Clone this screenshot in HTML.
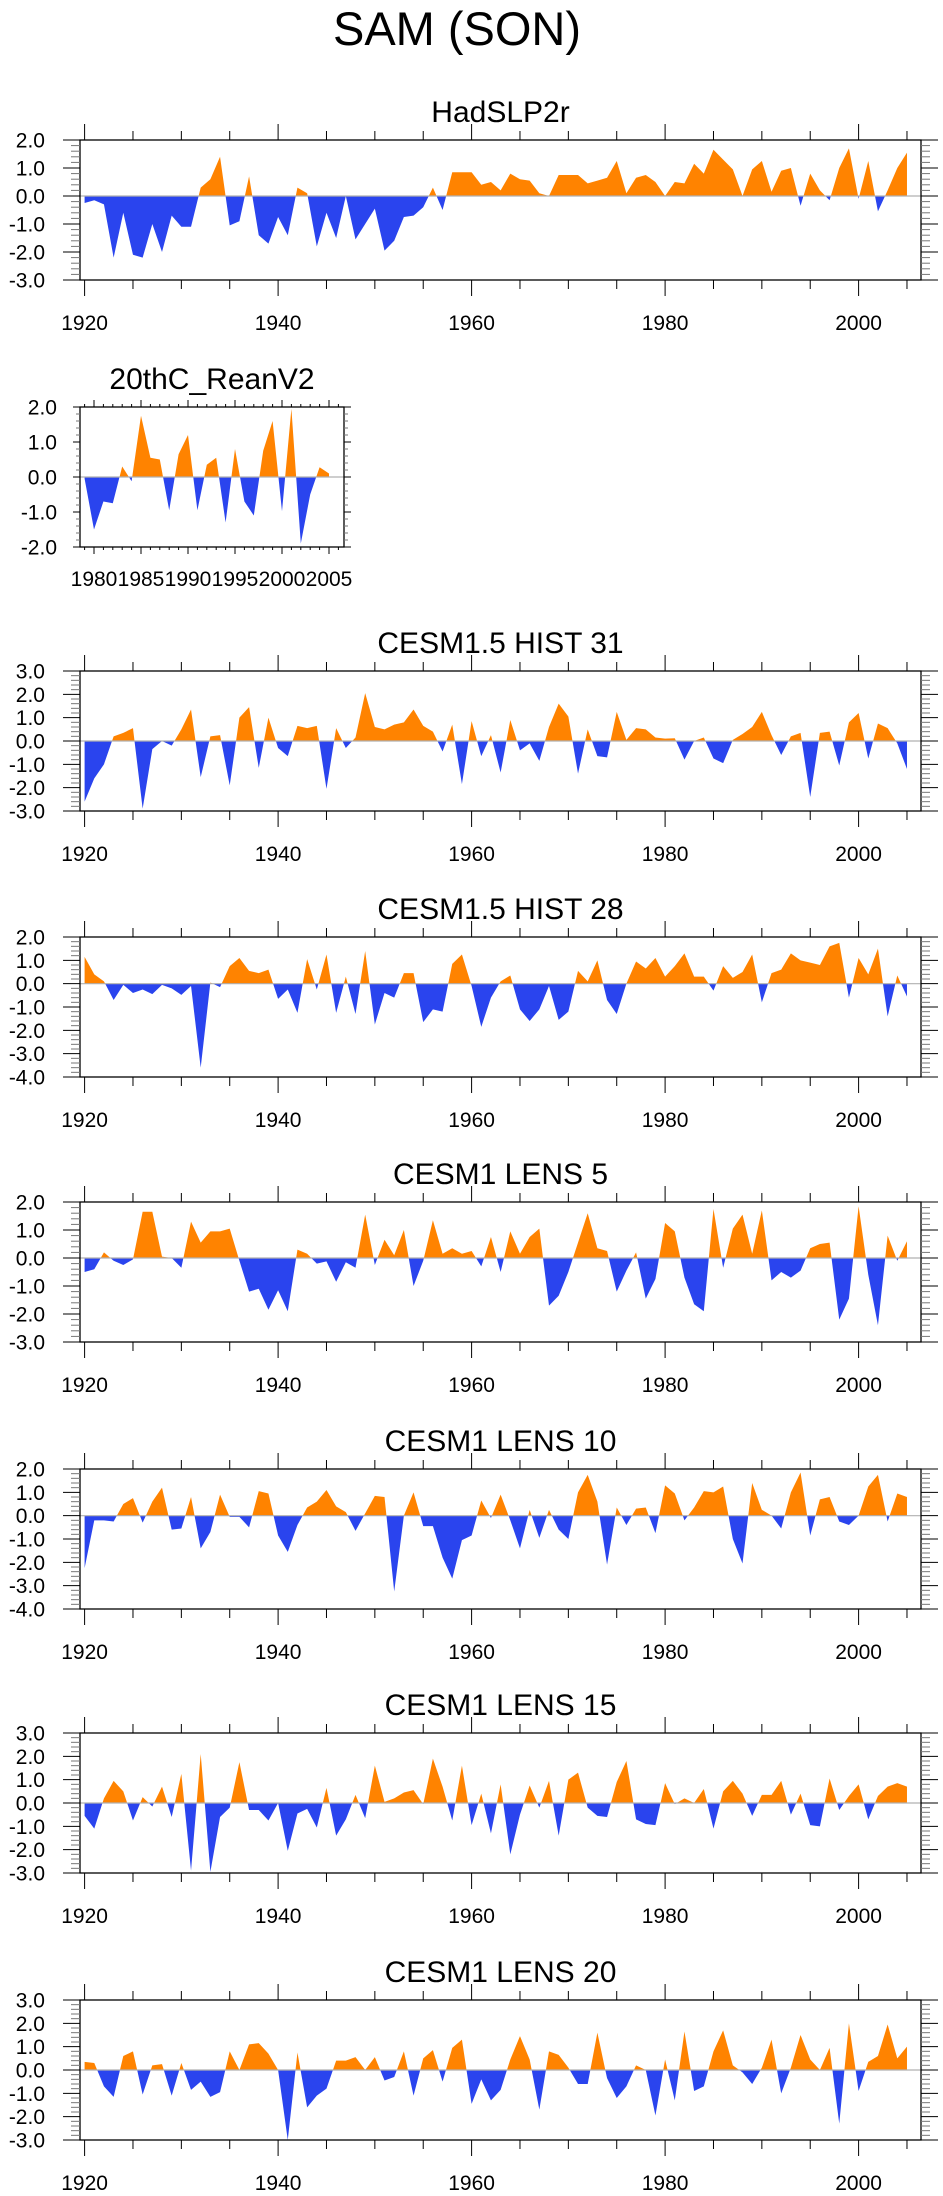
<!DOCTYPE html>
<html><head><meta charset="utf-8"><style>
html,body{margin:0;padding:0;background:#fff;}
svg{display:block;font-family:"Liberation Sans",sans-serif;}
</style></head><body>
<svg id="fig" width="943" height="2196" viewBox="0 0 943 2196" xmlns="http://www.w3.org/2000/svg">
<text x="457" y="45" font-size="47" text-anchor="middle">SAM (SON)</text>
</svg>
<script>
const had = [-0.25,-0.15,-0.3,-2.2,-0.6,-2.1,-2.2,-1.0,-2.0,-0.7,-1.1,-1.1,0.3,0.6,1.4,-1.05,-0.9,0.7,-1.4,-1.7,-0.75,-1.4,0.3,0.1,-1.8,-0.6,-1.5,0.0,-1.55,-1.0,-0.45,-1.95,-1.6,-0.75,-0.7,-0.4,0.3,-0.5,0.85,0.85,0.85,0.4,0.5,0.2,0.8,0.6,0.55,0.1,0.0,0.75,0.75,0.75,0.45,0.55,0.65,1.25,0.1,0.65,0.75,0.5,0.0,0.5,0.45,1.15,0.8,1.65,1.3,0.95,0.0,0.95,1.25,0.15,0.9,1.0,-0.35,0.8,0.2,-0.15,1.0,1.7,-0.1,1.25,-0.55,0.2,1.0,1.55];
const rean = [-0.05,-1.5,-0.7,-0.75,0.3,-0.12,1.75,0.55,0.5,-0.95,0.65,1.2,-0.95,0.35,0.55,-1.3,0.8,-0.7,-1.1,0.75,1.6,-0.98,1.95,-1.9,-0.5,0.28,0.1];
const hist31 = [-2.6,-1.6,-1.0,0.2,0.35,0.55,-2.9,-0.35,0.0,-0.2,0.5,1.35,-1.55,0.2,0.25,-1.9,1.0,1.45,-1.15,1.0,-0.3,-0.65,0.65,0.55,0.65,-2.05,0.55,-0.3,0.15,2.05,0.6,0.5,0.7,0.8,1.35,0.65,0.4,-0.45,0.7,-1.85,0.85,-0.65,0.25,-1.35,0.9,-0.4,-0.1,-0.85,0.6,1.6,1.05,-1.4,0.5,-0.65,-0.7,1.25,0.05,0.55,0.5,0.15,0.1,0.12,-0.8,0.0,0.15,-0.75,-0.95,0.05,0.3,0.6,1.25,0.25,-0.6,0.2,0.35,-2.4,0.35,0.4,-1.05,0.8,1.2,-0.75,0.75,0.55,-0.1,-1.2];
const hist28 = [1.15,0.4,0.1,-0.7,-0.05,-0.4,-0.25,-0.45,-0.05,-0.2,-0.48,-0.1,-3.6,0.05,-0.15,0.75,1.1,0.55,0.45,0.6,-0.65,-0.25,-1.25,1.05,-0.25,1.25,-1.25,0.3,-1.3,1.4,-1.75,-0.4,-0.6,0.45,0.45,-1.65,-1.1,-1.2,0.85,1.25,-0.1,-1.85,-0.6,0.1,0.35,-1.1,-1.6,-1.1,-0.1,-1.55,-1.2,0.55,0.1,1.0,-0.7,-1.3,0.0,0.95,0.65,1.1,0.3,0.75,1.3,0.3,0.3,-0.3,0.75,0.25,0.5,1.25,-0.8,0.45,0.6,1.3,1.0,0.9,0.8,1.6,1.75,-0.6,1.1,0.4,1.5,-1.4,0.35,-0.55];
const lens5 = [-0.5,-0.4,0.2,-0.1,-0.25,-0.05,1.65,1.65,0.05,0.0,-0.35,1.3,0.55,0.95,0.95,1.05,-0.1,-1.2,-1.1,-1.85,-1.15,-1.9,0.3,0.15,-0.2,-0.12,-0.85,-0.15,-0.35,1.55,-0.25,0.65,0.1,1.0,-1.0,-0.1,1.35,0.15,0.35,0.15,0.25,-0.3,0.75,-0.5,0.95,0.15,0.75,1.05,-1.7,-1.35,-0.5,0.55,1.6,0.35,0.25,-1.2,-0.45,0.2,-1.45,-0.75,1.25,0.95,-0.7,-1.65,-1.9,1.75,-0.35,1.05,1.55,0.15,1.7,-0.8,-0.5,-0.7,-0.45,0.35,0.5,0.55,-2.2,-1.45,1.85,-0.6,-2.4,0.8,-0.1,0.6];
const lens10 = [-2.25,-0.2,-0.2,-0.25,0.5,0.75,-0.3,0.6,1.2,-0.6,-0.55,0.8,-1.4,-0.7,0.9,-0.05,-0.05,-0.5,1.05,0.95,-0.85,-1.55,-0.4,0.35,0.6,1.1,0.4,0.15,-0.65,0.1,0.85,0.8,-3.25,0.0,1.0,-0.45,-0.45,-1.8,-2.7,-1.05,-0.85,0.65,-0.1,0.9,-0.2,-1.4,0.25,-0.95,0.25,-0.6,-1.0,1.0,1.75,0.6,-2.1,0.35,-0.4,0.3,0.35,-0.75,1.3,0.95,-0.2,0.35,1.05,1.0,1.25,-1.0,-2.05,1.4,0.25,0.0,-0.55,1.0,1.85,-0.85,0.7,0.8,-0.25,-0.4,0.0,1.25,1.75,-0.25,0.95,0.8];
const lens15 = [-0.55,-1.1,0.2,0.95,0.5,-0.75,0.25,-0.15,0.7,-0.6,1.25,-2.9,2.1,-2.95,-0.6,-0.2,1.75,-0.3,-0.3,-0.75,0.0,-2.05,-0.45,-0.25,-1.05,0.65,-1.4,-0.7,0.35,-0.65,1.6,0.05,0.2,0.45,0.55,-0.05,1.9,0.7,-0.75,1.6,-0.95,0.4,-1.3,0.8,-2.2,-0.5,0.75,-0.2,0.95,-1.4,1.0,1.3,-0.2,-0.55,-0.6,0.9,1.8,-0.7,-0.9,-0.95,0.85,-0.05,0.2,0.0,0.6,-1.1,0.5,0.95,0.4,-0.55,0.35,0.35,0.95,-0.5,0.4,-0.95,-1.0,1.05,-0.3,0.3,0.8,-0.7,0.3,0.7,0.85,0.7];
const lens20 = [0.35,0.3,-0.7,-1.15,0.6,0.8,-1.05,0.2,0.25,-1.1,0.3,-0.85,-0.5,-1.15,-0.95,0.8,0.0,1.1,1.15,0.7,0.0,-3.0,0.75,-1.6,-1.1,-0.8,0.4,0.4,0.55,0.0,0.55,-0.45,-0.3,0.8,-1.1,0.5,0.85,-0.5,0.95,1.3,-1.45,-0.4,-1.3,-0.85,0.45,1.45,0.45,-1.7,0.8,0.65,0.1,-0.6,-0.6,1.6,-0.35,-1.2,-0.7,0.2,0.0,-1.95,0.45,-1.3,1.65,-0.9,-0.7,0.8,1.7,0.2,-0.1,-0.6,0.1,1.3,-1.0,0.1,1.5,0.45,0.0,0.95,-2.3,2.0,-0.9,0.35,0.6,1.95,0.5,1.0];
const fullTicks = [1920,1940,1960,1980,2000];
const reanTicks = [1980,1985,1990,1995,2000,2005];

const NS = "http://www.w3.org/2000/svg";
const svg = document.getElementById('fig');
function el(tag, attrs, parent){
  const e = document.createElementNS(NS, tag);
  for (const k in attrs) e.setAttribute(k, attrs[k]);
  (parent||svg).appendChild(e);
  return e;
}
const panels = [
  {name:'hadslp2r', title:'HadSLP2r', data:had, y0:1920, top:140, ymax:2, ymin:-3, full:true},
  {name:'20thc-reanv2', title:'20thC_ReanV2', data:rean, y0:1979, top:407, ymax:2, ymin:-2, full:false},
  {name:'cesm15-hist-31', title:'CESM1.5 HIST 31', data:hist31, y0:1920, top:671, ymax:3, ymin:-3, full:true},
  {name:'cesm15-hist-28', title:'CESM1.5 HIST 28', data:hist28, y0:1920, top:937, ymax:2, ymin:-4, full:true},
  {name:'cesm1-lens-5', title:'CESM1 LENS 5', data:lens5, y0:1920, top:1202, ymax:2, ymin:-3, full:true},
  {name:'cesm1-lens-10', title:'CESM1 LENS 10', data:lens10, y0:1920, top:1469, ymax:2, ymin:-4, full:true},
  {name:'cesm1-lens-15', title:'CESM1 LENS 15', data:lens15, y0:1920, top:1733, ymax:3, ymin:-3, full:true},
  {name:'cesm1-lens-20', title:'CESM1 LENS 20', data:lens20, y0:1920, top:2000, ymax:3, ymin:-3, full:true}
];
let cid = 0;
panels.forEach(p => {
  const H = 140, top = p.top, bot = top + H;
  const left = 80, right = p.full ? 921 : 344;
  const xs = p.full ? (yr => 84.6 + 9.675*(yr-1920)) : (yr => 94 + 9.4*(yr-1980));
  const ys = v => top + (p.ymax - v) / (p.ymax - p.ymin) * H;
  const g = el('g', {});
  
  
  const t = el('text', {x:(left+right)/2, y: top-18, 'font-size':30, 'text-anchor':'middle'}, g);
  
  
  t.textContent = p.title;
  // area
  const z = ys(0);
  let d = 'M' + xs(p.y0) + ' ' + z;
  p.data.forEach((v,i) => { d += ' L' + xs(p.y0+i).toFixed(2) + ' ' + ys(v).toFixed(2); });
  d += ' L' + xs(p.y0+p.data.length-1).toFixed(2) + ' ' + z + ' Z';
  const c1 = 'cp' + (cid++), c2 = 'cp' + (cid++);
  const defs = el('defs', {}, g);
  const cpA = el('clipPath', {id:c1}, defs); el('rect', {x:left, y:top, width:right-left, height:z-top}, cpA);
  const cpB = el('clipPath', {id:c2}, defs); el('rect', {x:left, y:z, width:right-left, height:bot-z}, cpB);
  const pos = el('path', {d:d, fill:'#ff8300', 'clip-path':'url(#'+c1+')'}, g);
  
  
  const neg = el('path', {d:d, fill:'#2a44ee', 'clip-path':'url(#'+c2+')'}, g);
  
  
  el('line', {x1:left, x2:right, y1:z, y2:z, stroke:'#b0b0b0', 'stroke-width':1.2}, g);
  // frame
  const fr = el('rect', {x:left, y:top, width:right-left, height:H, fill:'none', stroke:'#000', 'stroke-width':1.3}, g);
  
  
  // x ticks
  const lastYr = p.full ? 2006 : 2006;
  const firstYr = p.full ? 1920 : 1979;
  for (let yr = firstYr; yr <= lastYr; yr++) {
    const x = xs(yr);
    if (x < left || x > right) continue;
    let len = 0;
    if (p.full) { if (yr % 20 === 0) len = 16; else if (yr % 5 === 0) len = 9; else continue; }
    else { len = (yr % 5 === 0) ? 7 : 3; }
    el('line', {x1:x, x2:x, y1:top, y2:top-len, stroke:'#000', 'stroke-width':1}, g);
    el('line', {x1:x, x2:x, y1:bot, y2:bot+len, stroke:'#000', 'stroke-width':1}, g);
  }
  const ticks = p.full ? fullTicks : reanTicks;
  ticks.forEach(yr => {
    const lt = el('text', {x:xs(yr), y: p.full ? bot+50 : bot+39, 'font-size':21, 'text-anchor':'middle'}, g);
    
    
    lt.textContent = yr;
  });
  // y ticks
  const majLen = p.full ? 17 : 7, minLen = p.full ? 9 : 4;
  for (let k = Math.round(p.ymin*5); k <= Math.round(p.ymax*5); k++) {
    const v = k/5, y = ys(v);
    const len = (k % 5 === 0) ? majLen : minLen;
    const col = (k % 5 === 0) ? '#000' : '#777';
    el('line', {x1:left, x2:left-len, y1:y, y2:y, stroke:col, 'stroke-width':1}, g);
    el('line', {x1:right, x2:right+len, y1:y, y2:y, stroke:col, 'stroke-width':1}, g);
    if (k % 5 === 0) {
      const yl = el('text', {x: p.full ? 45 : 57, y: y+7.5, 'font-size':21, 'text-anchor':'end'}, g);
      
      
      yl.textContent = v.toFixed(1);
    }
  }
});
</script>
</body></html>
